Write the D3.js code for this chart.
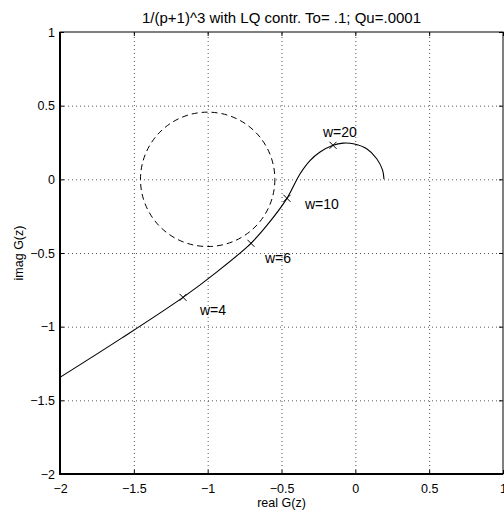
<!DOCTYPE html>
<html>
<head>
<meta charset="utf-8">
<title>Nyquist LQ</title>
<style>
  body { margin: 0; background: #fff; }
  svg { display: block; font-family: "Liberation Sans", Arial, sans-serif; }
</style>
</head>
<body>
<div id="chart"></div>
<script src="https://d3js.org/d3.v7.min.js"></script>
<script>

// axis ticks
const xTicks = [-2, -1.5, -1, -0.5, 0, 0.5, 1];
const yTicks = [-2, -1.5, -1, -0.5, 0, 0.5, 1];
const tickLabels = ["\u22122", "\u22121.5", "\u22121", "\u22120.5", "0", "0.5", "1"];

// Nyquist curve of the loop (real, imag)
const nyqRe = [-2.1, -2.0, -1.583, -1.167, -0.937, -0.707, -0.585, -0.463, -0.375, -0.307,
               -0.239, -0.151, -0.082, -0.014, 0.077, 0.145, 0.185, 0.194];
const nyqIm = [-1.406, -1.344, -1.078, -0.801, -0.628, -0.434, -0.295, -0.129, 0.036, 0.127,
               0.185, 0.231, 0.246, 0.242, 0.208, 0.140, 0.061, 0.0];

// frequency markers
const markRe = [-1.167, -0.707, -0.463, -0.151];
const markIm = [-0.801, -0.434, -0.129, 0.231];
const markLabels = ["w=4", "w=6", "w=10", "w=20"];
const labelRe = [-1.052, -0.612, -0.341, -0.219];
const labelIm = [-0.923, -0.570, -0.204, 0.285];

// dashed circle
const circleCenter = [-1, 0];
const circleRadius = 0.455;

const width = 504;
const height = 512;
const margin = { top: 32, right: 1, bottom: 38, left: 60 };

const svg = d3.select("#chart")
  .append("svg")
  .attr("width", width)
  .attr("height", height);

const x = d3.scaleLinear()
  .domain([-2, 1])
  .range([margin.left, width - margin.right]);

const y = d3.scaleLinear()
  .domain([-2, 1])
  .range([height - margin.bottom, margin.top]);

const plotW = x(1) - x(-2);
const plotH = y(-2) - y(1);

svg.append("defs").append("clipPath")
  .attr("id", "clip")
  .append("rect")
  .attr("x", x(-2)).attr("y", y(1))
  .attr("width", plotW).attr("height", plotH);

// grid
svg.append("g")
  .attr("transform", `translate(0,${y(-2)})`)
  .call(d3.axisBottom(x).tickValues(xTicks.slice(1, -1)).tickSize(-plotH).tickFormat(""))
  .call(g => g.select(".domain").remove())
  .call(g => g.selectAll("line").attr("stroke", "#555").attr("stroke-dasharray", "1,3"));

svg.append("g")
  .attr("transform", `translate(${x(-2)},0)`)
  .call(d3.axisLeft(y).tickValues(yTicks.slice(1, -1)).tickSize(-plotW).tickFormat(""))
  .call(g => g.select(".domain").remove())
  .call(g => g.selectAll("line").attr("stroke", "#555").attr("stroke-dasharray", "1,3"));

// axes with inner ticks
function styleAxis(g) {
  g.select(".domain").remove();
  g.selectAll("text").attr("font-size", "12.5px").attr("fill", "#000")
    .attr("font-family", "'Liberation Sans', Arial, sans-serif");
  g.selectAll("line").attr("stroke", "#000");
}

svg.append("g")
  .attr("transform", `translate(0,${y(-2)})`)
  .call(d3.axisBottom(x).tickValues(xTicks).tickSize(-4).tickPadding(10)
    .tickFormat((d, i) => tickLabels[i]))
  .call(styleAxis);

svg.append("g")
  .attr("transform", `translate(0,${y(1)})`)
  .call(d3.axisTop(x).tickValues(xTicks).tickSize(-4).tickFormat(""))
  .call(styleAxis);

svg.append("g")
  .attr("transform", `translate(${x(-2)},0)`)
  .call(d3.axisLeft(y).tickValues(yTicks).tickSize(-4).tickPadding(5)
    .tickFormat((d, i) => tickLabels[i]))
  .call(styleAxis);

svg.append("g")
  .attr("transform", `translate(${x(1)},0)`)
  .call(d3.axisRight(y).tickValues(yTicks).tickSize(-4).tickFormat(""))
  .call(styleAxis);

// box
svg.append("rect")
  .attr("x", x(-2)).attr("y", y(1))
  .attr("width", plotW).attr("height", plotH)
  .attr("fill", "none").attr("stroke", "#000").attr("stroke-width", 1);
svg.append("path")
  .attr("d", `M${x(-2)},${y(1)}V${y(-2)}H${x(1)}`)
  .attr("fill", "none").attr("stroke", "#000").attr("stroke-width", 2);

const plot = svg.append("g").attr("clip-path", "url(#clip)");

// dashed circle
plot.append("circle")
  .attr("cx", x(circleCenter[0]))
  .attr("cy", y(circleCenter[1]))
  .attr("r", x(circleRadius) - x(0))
  .attr("fill", "none")
  .attr("stroke", "#000")
  .attr("stroke-width", 1)
  .attr("stroke-dasharray", "6,4");

// curve
const pts = nyqRe.map((d, i) => [d, nyqIm[i]]);
const line = d3.line()
  .x(d => x(d[0]))
  .y(d => y(d[1]))
  .curve(d3.curveCatmullRom.alpha(0.5));

plot.append("path")
  .datum(pts)
  .attr("d", line)
  .attr("fill", "none")
  .attr("stroke", "#000")
  .attr("stroke-width", 1.1);

// x markers
const s = 3.5;
plot.selectAll(".mark")
  .data(markRe)
  .join("path")
  .attr("class", "mark")
  .attr("d", (d, i) => {
    const cx = x(d), cy = y(markIm[i]);
    return `M${cx - s},${cy - s}L${cx + s},${cy + s}M${cx - s},${cy + s}L${cx + s},${cy - s}`;
  })
  .attr("stroke", "#000")
  .attr("stroke-width", 1);

svg.selectAll(".wlabel")
  .data(markLabels)
  .join("text")
  .attr("class", "wlabel")
  .attr("x", (d, i) => x(labelRe[i]))
  .attr("y", (d, i) => y(labelIm[i]))
  .attr("font-size", "14px")
  .text(d => d);

// titles
svg.append("text")
  .attr("x", (x(-2) + x(1)) / 2)
  .attr("y", 23)
  .attr("text-anchor", "middle")
  .attr("font-size", "15px")
  .text("1/(p+1)^3 with LQ contr. To= .1; Qu=.0001");

svg.append("text")
  .attr("x", (x(-2) + x(1)) / 2)
  .attr("y", 507)
  .attr("text-anchor", "middle")
  .attr("font-size", "12.5px")
  .text("real G(z)");

svg.append("text")
  .attr("transform", `translate(23,${(y(1) + y(-2)) / 2}) rotate(-90)`)
  .attr("text-anchor", "middle")
  .attr("font-size", "12.5px")
  .text("imag G(z)");

</script>
</body>
</html>
